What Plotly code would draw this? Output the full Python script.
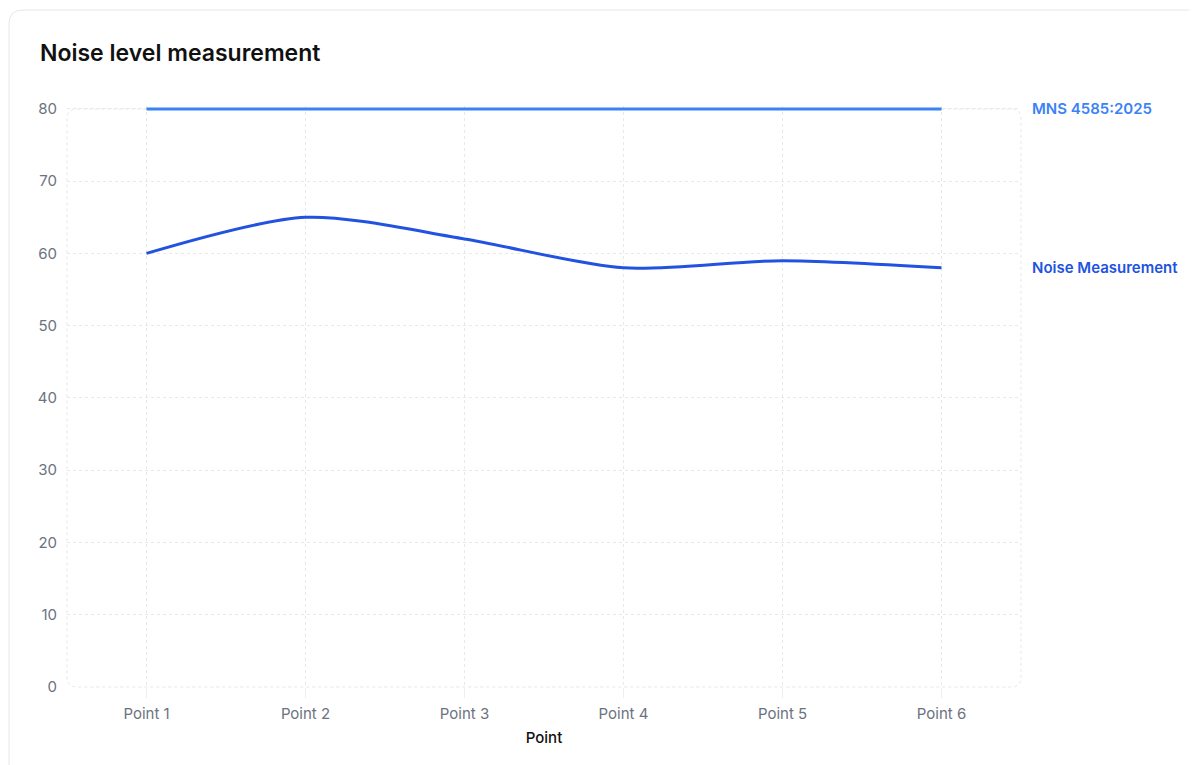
import plotly.graph_objects as go

categories = ["Point 1", "Point 2", "Point 3", "Point 4", "Point 5", "Point 6"]
noise_values = [60, 65, 62, 58, 59, 58]
standard_values = [80, 80, 80, 80, 80, 80]
series_names = ["MNS 4585:2025", "Noise Measurement"]
y_ticks = [0, 10, 20, 30, 40, 50, 60, 70, 80]

OFF = 8  # page body margin
W, H = 1197, 765
Y_TOP = 80.4
UNIT = (687 - 109) / 80.0
L, R, B = 67 - OFF, 1021 - OFF, 687 - OFF
T = round(B - Y_TOP * UNIT)
pw, ph = R - L, B - T

def px(x):
    return (x - OFF - L) / pw

def py(y):
    return (B - (y - OFF)) / ph

std_color = "#3b82f6"
noise_color = "#2253e0"

fig = go.Figure()
fig.add_trace(go.Scatter(x=categories, y=standard_values, mode="lines", name=series_names[0],
                         line=dict(color=std_color, width=3), hoverinfo="x+y"))
fig.add_trace(go.Scatter(x=categories, y=noise_values, mode="lines", name=series_names[1],
                         line=dict(color=noise_color, width=3, shape="spline", smoothing=0.8),
                         hoverinfo="x+y"))

def rounded_path(x0, y0, x1, y1, r):
    rx, ry = r / pw, r / ph
    X0, X1 = px(x0), px(x1)
    Y0, Y1 = py(y0), py(y1)
    return (f"M {X0+rx},{Y0} L {X1-rx},{Y0} Q {X1},{Y0} {X1},{Y0-ry} "
            f"L {X1},{Y1+ry} Q {X1},{Y1} {X1-rx},{Y1} "
            f"L {X0+rx},{Y1} Q {X0},{Y1} {X0},{Y1+ry} "
            f"L {X0},{Y0-ry} Q {X0},{Y0} {X0+rx},{Y0} Z")

shapes = [
    dict(type="path", xref="paper", yref="paper", path=rounded_path(9, 10, 1215, 790, 14),
         line=dict(color="#e5e7eb", width=1), fillcolor="rgba(0,0,0,0)", layer="below"),
    dict(type="path", xref="paper", yref="paper", path=rounded_path(67, 109, 1021, 687, 10),
         line=dict(color="#e5e7eb", width=1, dash="3px,3px"), fillcolor="rgba(0,0,0,0)", layer="below"),
]

annotations = [
    dict(text="Noise level measurement", xref="paper", yref="paper", x=px(38), y=py(53),
         xanchor="left", yanchor="middle", showarrow=False,
         font=dict(family="Inter", size=23, weight=600, color="#111111")),
    dict(text=series_names[0], xref="paper", yref="y", x=px(1030), y=standard_values[-1],
         xanchor="left", yanchor="middle", showarrow=False,
         font=dict(family="Inter", size=15, weight=600, color=std_color)),
    dict(text=series_names[1], xref="paper", yref="y", x=px(1030), y=noise_values[-1],
         xanchor="left", yanchor="middle", showarrow=False,
         font=dict(family="Inter", size=15, weight=600, color=noise_color)),
]

fig.update_layout(
    width=W, height=H,
    margin=dict(l=L, r=W - R, t=T, b=H - B, pad=0),
    paper_bgcolor="white", plot_bgcolor="white",
    showlegend=False,
    font=dict(family="Inter", size=15, color="#6b7280"),
    shapes=shapes, annotations=annotations,
    xaxis=dict(range=[-0.5, 5.5], showgrid=True, gridcolor="#e8e8e8", griddash="3px,3px", gridwidth=1,
               zeroline=False, showline=False, ticks="outside", ticklen=10, tickcolor="#eeeeee",
               ticklabelstandoff=3,
               tickfont=dict(size=15, color="#6b7280"),
               title=dict(text="Point", font=dict(size=15, weight=500, color="#111111"), standoff=10)),
    yaxis=dict(range=[0, Y_TOP], tickvals=y_ticks, showgrid=True, gridcolor="#e8e8e8", griddash="3px,3px",
               gridwidth=1, zeroline=False, showline=False, ticks="", ticklabelstandoff=9,
               tickfont=dict(size=15, color="#6b7280")),
)

fig.write_html("out.html")
